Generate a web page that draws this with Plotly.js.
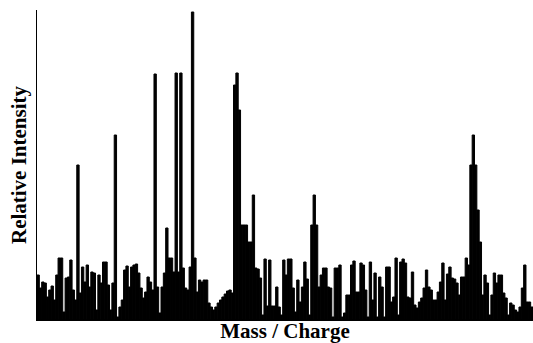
<!DOCTYPE html>
<html>
<head>
<meta charset="utf-8">
<script src="https://cdn.plot.ly/plotly-3.0.1.min.js"></script>
<style>html,body{margin:0;padding:0;background:#fff;}#chart{width:533px;height:343px;}</style>
</head>
<body>
<div id="chart"></div>
<script>
// Relative intensity per mass channel (arbitrary units)
const intensity = [
  45, 32, 38, 37, 23, 30, 34, 20, 45, 62, 62, 8, 42, 43, 60, 30, 20, 155, 27, 53,
  38, 55, 33, 48, 47, 10, 45, 37, 58, 58, 35, 10, 37, 185, 3,
  13, 20, 50, 54, 33, 53, 55, 56, 47, 32, 22, 28, 43, 38, 30, 246, 33, 7, 33, 47,
  92, 62, 62, 48, 247, 48, 247, 52, 32, 30, 53, 308, 62, 28, 40, 38, 40, 40, 17, 13,
  10, 13, 17, 20, 23, 26, 29, 30, 27,
  235, 247, 210, 95, 95, 95, 78, 78, 125, 52, 51, 42, 5, 61, 14, 60, 14, 14, 33, 13,
  5, 60, 45, 61, 61, 32, 8, 40, 18, 33, 58, 41, 5, 95, 125, 95, 33, 45, 52, 52,
  33, 32, 3, 52, 52, 55, 3, 7, 25, 25, 55, 59, 28, 28, 57, 55, 30, 3, 58, 20,
  47, 3, 43, 33, 3, 53, 53, 18, 23, 62, 5, 58, 61, 57, 23, 22, 48, 15, 12, 18,
  22, 32, 50, 33, 30, 20, 20, 28, 38, 57, 20, 46, 53, 42, 41, 37, 25, 43, 43, 62,
  55, 155, 185, 155, 110, 78, 25, 45, 37, 5, 25, 47, 37, 45, 45, 27, 22, 5, 17, 15,
  10, 8, 13, 32, 55, 18, 18, 13
];
const massChannel = intensity.map((_, i) => i);

const xTitle = 'Mass / Charge';
const yTitle = 'Relative Intensity';

const trace = {
  type: 'bar',
  x: massChannel,
  y: intensity,
  marker: { color: '#000000', line: { width: 1, color: '#000000' } },
  hoverinfo: 'none'
};

const titleFont = { family: 'Liberation Serif, Times New Roman, serif', size: 21, color: '#000', weight: 'bold' };

const layout = {
  width: 533,
  height: 343,
  margin: { l: 37, r: 0, t: 10, b: 23 },
  paper_bgcolor: '#ffffff',
  plot_bgcolor: '#ffffff',
  bargap: 0,
  showlegend: false,
  xaxis: {
    range: [-0.5, massChannel.length - 0.5],
    showgrid: false, zeroline: false,
    showticklabels: false, ticks: '',
    showline: true, linecolor: '#000000', linewidth: 1,
    title: { text: xTitle, standoff: 5, font: titleFont }
  },
  yaxis: {
    range: [0, 310],
    showgrid: false, zeroline: false,
    showticklabels: false, ticks: '',
    showline: true, linecolor: '#000000', linewidth: 1,
    title: { text: yTitle, standoff: 3, font: titleFont }
  }
};

Plotly.newPlot('chart', [trace], layout, { displayModeBar: false, staticPlot: true });
</script>
</body>
</html>
